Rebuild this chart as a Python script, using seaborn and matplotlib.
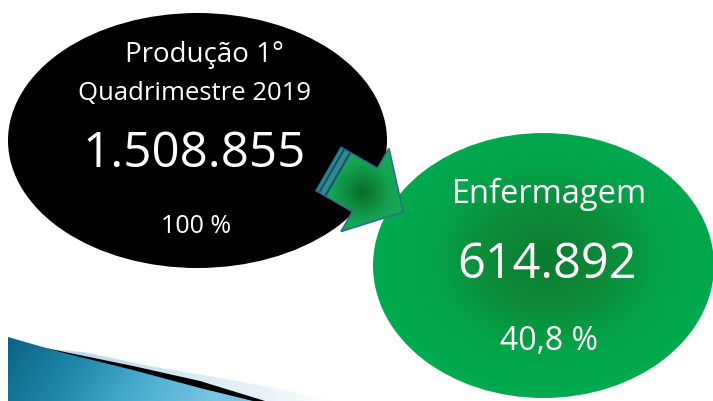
import numpy as np
import matplotlib
matplotlib.use("Agg")
import matplotlib.pyplot as plt
from matplotlib.patches import Ellipse, Polygon
import seaborn as sns

# values shown in the two bubbles
titles = ["Produção 1°\nQuadrimestre 2019", "Enfermagem"]
totals = [1508855, 614892]
shares = [100, 40.8]


def fmt_total(v):
    return f"{v:,}".replace(",", ".")


def fmt_share(v):
    s = f"{v:g}".replace(".", ",")
    return s + " %"


sns.set_theme(style="white")
plt.rcParams['font.family'] = ['Open Sans', 'DejaVu Sans']

W, H = 713, 401
fig = plt.figure(figsize=(W / 100, H / 100), dpi=100)
ax = fig.add_axes([0, 0, 1, 1])
ax.set_xlim(0, W)
ax.set_ylim(H, 0)
ax.axis("off")

X, Y = np.meshgrid(np.arange(W) + 0.5, np.arange(H) + 0.5)
ext = (0, W, H, 0)


def radial_fill(patch, cx, cy, rx, ry, colors, z):
    ax.add_patch(patch)
    d = np.sqrt(((X - cx) / rx) ** 2 + ((Y - cy) / ry) ** 2)
    cmap = sns.blend_palette(colors, as_cmap=True)
    im = ax.imshow(np.clip(d, 0, 1), cmap=cmap, vmin=0, vmax=1, extent=ext,
                   origin="upper", zorder=z, interpolation="bilinear")
    im.set_clip_path(patch)


# black bubble
black = Ellipse((197.5, 140.5), 379, 255, facecolor="black", edgecolor="none", zorder=2)
ax.add_patch(black)

# green bubble with radial shading
green = Ellipse((543.5, 265.5), 341, 265, facecolor="none", edgecolor="none", zorder=2)
radial_fill(green, 548, 258, 175, 140, ["#0b7a30", "#0d8a38", "#03a349", "#00aa4f"], 2)

# arrow from black to green
u = np.array([0.866, 0.5])
v = np.array([-0.5, 0.866])
B = np.array([365.0, 190.0])
T = B + 44 * u
tail = B - 42 * u
arrow_pts = [tail - 25 * v, B - 25 * v, B - 48 * v, T, B + 48 * v, B + 25 * v, tail + 25 * v]
arrow = Polygon(arrow_pts, closed=True, facecolor="none", edgecolor="#2f6f8c", lw=1.2, zorder=4)
radial_fill(Polygon(arrow_pts, closed=True, facecolor="none", edgecolor="none"),
            362, 192, 45, 45, ["#0a6a2c", "#0f8a3e", "#14a452", "#16ab57"], 3)
ax.add_patch(arrow)
band = [tail - 25 * v, tail - 25 * v + 11 * u, tail + 25 * v + 11 * u, tail + 25 * v]
ax.add_patch(Polygon(band, closed=True, facecolor="#2b8f86", edgecolor="none", zorder=3.5))
for off in (3.5, 10.5):
    a, b = tail - 25 * v + off * u, tail + 25 * v + off * u
    ax.plot([a[0], b[0]], [a[1], b[1]], color="#1f4d7a", lw=1.6, zorder=4, solid_capstyle="butt")

# blue swoosh at bottom left
pale_top = [(83, 352), (150, 366), (220, 378), (280, 389), (333, 401)]
black_top = [(55, 350), (133, 366), (200, 381), (265, 401)]
blue_top = [(8, 337), (60, 352), (133, 370), (200, 388), (253, 401)]

pale = Polygon(pale_top + [(8, 401), (8, 345)], closed=True, facecolor="none", edgecolor="none")
ax.add_patch(pale)
cmap_pale = sns.blend_palette(["#b9dbea", "#d9ecf4", "#ffffff"], as_cmap=True)
im = ax.imshow(np.clip((X - 80) / 260, 0, 1), cmap=cmap_pale, vmin=0, vmax=1, extent=ext,
               origin="upper", zorder=1, interpolation="bilinear")
im.set_clip_path(pale)

ax.add_patch(Polygon(black_top + [(8, 401), (8, 340)], closed=True,
                     facecolor="black", edgecolor="none", zorder=1.2))

blue = Polygon(blue_top + [(8, 401)], closed=True, facecolor="none", edgecolor="none")
ax.add_patch(blue)
cmap_blue = sns.blend_palette(["#0b6384", "#1f86a8", "#4aaed0", "#79c6e2"], as_cmap=True)
im = ax.imshow(np.clip((X - 8) / 245 + (Y - 337) / 400, 0, 1), cmap=cmap_blue, vmin=0, vmax=1,
               extent=ext, origin="upper", zorder=1.4, interpolation="bilinear")
im.set_clip_path(blue)

# texts
tkw = dict(color="white", ha="center", va="baseline", zorder=6, fontweight="medium")
ax.text(204, 62, titles[0].split("\n")[0], fontsize=20, **tkw)
ax.text(194, 100, titles[0].split("\n")[1], fontsize=18.5, **tkw)
ax.text(194, 167, fmt_total(totals[0]), fontsize=35.5, **tkw)
ax.text(196, 233, fmt_share(shares[0]), fontsize=18, **tkw)

ax.text(549, 203, titles[1], fontsize=23.5, **tkw)
ax.text(547, 278, fmt_total(totals[1]), fontsize=35, **tkw)
ax.text(549, 350, fmt_share(shares[1]), fontsize=23, **tkw)

fig.savefig("out.png", dpi=100, facecolor="white")
